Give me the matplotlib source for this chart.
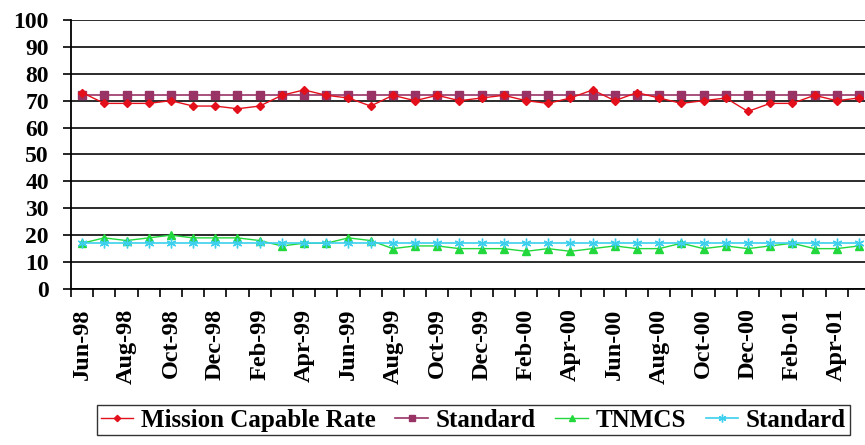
import matplotlib
matplotlib.use("Agg")
import matplotlib.pyplot as plt
import numpy as np

plt.rcParams['font.family'] = ['Liberation Serif', 'DejaVu Serif']
plt.rcParams['font.weight'] = 'bold'

months = ["Jun-98", "Jul-98", "Aug-98", "Sep-98", "Oct-98", "Nov-98",
          "Dec-98", "Jan-99", "Feb-99", "Mar-99", "Apr-99", "May-99",
          "Jun-99", "Jul-99", "Aug-99", "Sep-99", "Oct-99", "Nov-99",
          "Dec-99", "Jan-00", "Feb-00", "Mar-00", "Apr-00", "May-00",
          "Jun-00", "Jul-00", "Aug-00", "Sep-00", "Oct-00", "Nov-00",
          "Dec-00", "Jan-01", "Feb-01", "Mar-01", "Apr-01", "May-01"]

mc_rate = [73, 69, 69, 69, 70, 68, 68, 67, 68, 72, 74, 72,
           71, 68, 72, 70, 72, 70, 71, 72, 70, 69, 71, 74,
           70, 73, 71, 69, 70, 71, 66, 69, 69, 72, 70, 71]
mc_standard = [72] * 36

tnmcs = [17, 19, 18, 19, 20, 19, 19, 19, 18, 16, 17, 17,
         19, 18, 15, 16, 16, 15, 15, 15, 14, 15, 14, 15,
         16, 15, 15, 17, 15, 16, 15, 16, 17, 15, 15, 16]
tnmcs_standard = [17] * 36

x = np.arange(len(months))

fig = plt.figure(figsize=(8.65, 4.45), dpi=100)
ax = fig.add_axes([0.0821, 0.3506, 0.9237, 0.6045])

ax.plot(x, mc_rate, color='#e3101c', lw=1, marker='D', ms=4,
        label='Mission Capable Rate', zorder=4)
ax.plot(x, mc_standard, color='#993366', lw=1.2, marker='s', ms=5.5,
        label='Standard', zorder=3)
ax.plot(x, tnmcs, color='#22d83c', lw=1, marker='^', ms=6,
        label='TNMCS', zorder=3)
ax.plot(x, tnmcs_standard, color='#3ccfee', lw=1.2, marker=(6, 2, 0), ms=7,
        mew=1, label='Standard', zorder=4)

ax.set_ylim(0, 100)
ax.set_xlim(-0.5, len(months) - 0.5)
ax.set_yticks(np.arange(0, 101, 10))
ax.yaxis.grid(True, color='#1a1a1a', lw=1.3, zorder=1)
ax.set_axisbelow(True)

# tick marks between months, labels on every other month
ax.set_xticks(np.arange(-0.5, len(months), 1))
ax.set_xticklabels([])
ax.set_xticks(x[::2], minor=True)
ax.set_xticklabels(months[::2], minor=True, rotation=90, fontsize=17.5,
                   fontweight='bold')
ax.tick_params(axis='x', which='major', direction='out', length=6,
               width=1.2, color='black')
ax.tick_params(axis='x', which='minor', length=0, pad=14)
ax.tick_params(axis='y', direction='out', length=6, width=1.2,
               labelsize=17, pad=10)
for lbl in ax.get_yticklabels():
    lbl.set_fontweight('bold')

for side in ('top', 'right'):
    ax.spines[side].set_visible(False)
for side in ('left', 'bottom'):
    ax.spines[side].set_linewidth(1.3)
    ax.spines[side].set_color('black')

leg = fig.legend(loc='center', bbox_to_anchor=(0.547, 0.056), ncol=4,
                 frameon=True, fancybox=False, edgecolor='black',
                 prop={'size': 18, 'weight': 'bold'},
                 handlelength=1.3, handletextpad=0.3, columnspacing=0.8,
                 borderpad=0.15, markerscale=0.8)
leg.get_frame().set_linewidth(1.0)

fig.savefig('out.png', dpi=100)
